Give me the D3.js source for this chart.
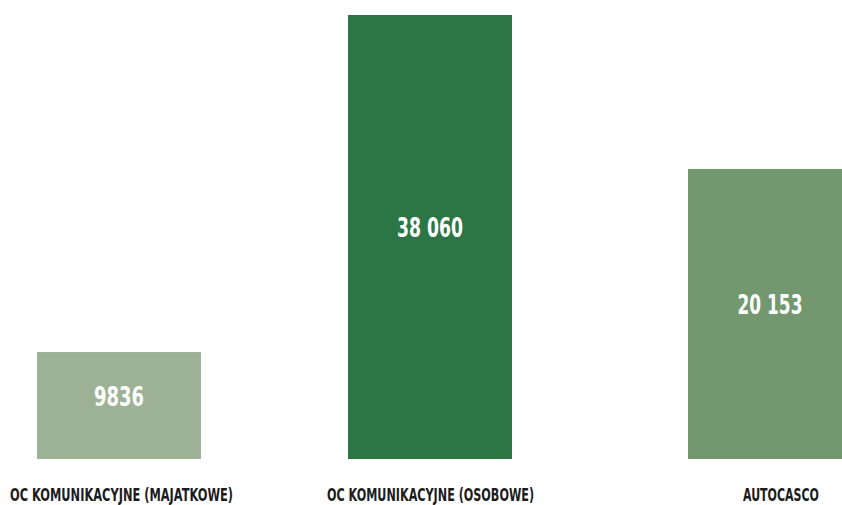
<!DOCTYPE html>
<html>
<head>
<meta charset="utf-8">
<script src="https://cdn.jsdelivr.net/npm/d3@7"></script>
<style>
  html, body { margin: 0; padding: 0; background: #ffffff; }
  svg { display: block; }
  text { font-family: "DejaVu Sans Condensed", "DejaVu Sans", sans-serif; font-weight: bold; }
</style>
</head>
<body>
<svg id="chart" width="842" height="505"></svg>
<script>
// Data
const categories = ["OC komunikacyjne (majątkowe)", "OC komunikacyjne (osobowe)", "Autocasco"];
const categoryLabels = ["OC KOMUNIKACYJNE (MAJATKOWE)", "OC KOMUNIKACYJNE (OSOBOWE)", "AUTOCASCO"];
const valueLabels = ["9836", "38 060", "20 153"];
// values as printed on the bars
const values = [9836, 38060, 20153];
// bar lengths as drawn in the picture (same units)
const barValues = [9170, 38060, 24860];
const colors = ["#9db295", "#2c7544", "#739870"];

const W = 842, H = 505;
const svg = d3.select("#chart");

const x = d3.scaleOrdinal().domain(categories).range([37, 348, 688]);
const barW = 164;
const y = d3.scaleLinear().domain([0, 38060]).range([459, 15]);

const labelX = d3.scaleOrdinal().domain(categories).range([121.5, 430.5, 781]);
// widths the texts occupy in the reference (condensed display face)
const catWidths = [223, 207, 76];
const valWidths = [50, 66, 65];

const g = svg.append("g");

g.selectAll("rect.bar")
  .data(categories)
  .join("rect")
  .attr("class", "bar")
  .attr("x", d => x(d))
  .attr("width", barW)
  .attr("y", (d, i) => y(barValues[i]))
  .attr("height", (d, i) => y(0) - y(barValues[i]))
  .attr("fill", (d, i) => colors[i]);

g.selectAll("text.val")
  .data(categories)
  .join("text")
  .attr("class", "val")
  .attr("x", d => x(d) + barW / 2)
  .attr("y", (d, i) => (y(barValues[i]) + y(0)) / 2)
  .attr("text-anchor", "middle")
  .attr("fill", "#ffffff")
  .attr("font-size", 26.5)
  .attr("textLength", (d, i) => valWidths[i])
  .attr("lengthAdjust", "spacingAndGlyphs")
  .text((d, i) => valueLabels[i]);

g.selectAll("text.cat")
  .data(categories)
  .join("text")
  .attr("class", "cat")
  .attr("x", d => labelX(d))
  .attr("y", 501)
  .attr("text-anchor", "middle")
  .attr("fill", "#1c1c1c")
  .attr("font-size", 17.5)
  .attr("textLength", (d, i) => catWidths[i])
  .attr("lengthAdjust", "spacingAndGlyphs")
  .text((d, i) => categoryLabels[i]);
</script>
</body>
</html>
